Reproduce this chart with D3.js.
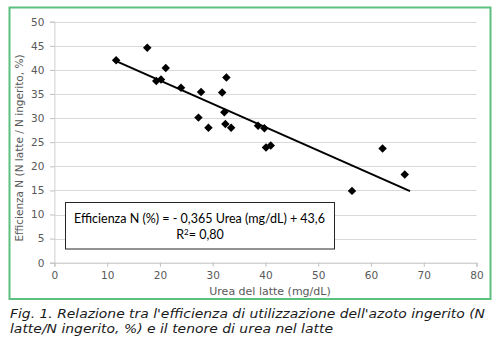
<!DOCTYPE html>
<html>
<head>
<meta charset="utf-8">
<script src="https://cdn.jsdelivr.net/npm/d3@7/dist/d3.min.js"></script>
<style>
  html, body { margin: 0; padding: 0; background: #fff; }
  svg { display: block; }
</style>
</head>
<body>
<svg id="chart" width="499" height="345"></svg>
<script>
// Urea nel latte (mg/dL) and efficienza di utilizzazione dell'azoto (%) per osservazione
const urea = [11.7, 17.6, 19.3, 20.2, 21.1, 24.0, 27.8, 32.6, 31.8, 27.3, 29.2,
              32.2, 32.4, 33.5, 38.6, 39.8, 40.1, 41.0, 62.2, 66.4, 56.4];
const efficienza = [42.0, 44.6, 37.7, 38.0, 40.4, 36.3, 35.4, 38.4, 35.3, 30.1, 28.0,
                    31.2, 28.8, 28.0, 28.4, 27.9, 23.9, 24.3, 23.7, 18.3, 14.9];

const xTicks = [0, 10, 20, 30, 40, 50, 60, 70, 80];
const yTicks = [0, 5, 10, 15, 20, 25, 30, 35, 40, 45, 50];
const trendRange = [11.7, 67.4];

const xTitle = "Urea del latte (mg/dL)";
const yTitle = "Efficienza N (N latte / N ingerito, %)";
const equationLines = ["Efficienza N (%) = - 0,365 Urea (mg/dL) + 43,6", "R2= 0,80"];
const captionLines = [
  "Fig. 1. Relazione tra l'efficienza di utilizzazione dell'azoto ingerito (N",
  "latte/N ingerito, %) e il tenore di urea nel latte"
];

const svg = d3.select("#chart");
const x = d3.scaleLinear().domain([0, 80]).range([54.4, 476.5]);
const y = d3.scaleLinear().domain([0, 50]).range([262.7, 21.7]);

const axisFont = "'DejaVu Sans', sans-serif";
const grey = "#595959";

// outer frame
svg.append("rect")
  .attr("x", 9.5).attr("y", 7.5).attr("width", 481).attr("height", 291.5)
  .attr("fill", "none").attr("stroke", "#5cc07e").attr("stroke-width", 2);

// horizontal gridlines
svg.append("g").selectAll("line").data(yTicks.filter(d => d > 0)).join("line")
  .attr("x1", x(0)).attr("x2", x(80))
  .attr("y1", d => Math.round(y(d)) + 0.5).attr("y2", d => Math.round(y(d)) + 0.5)
  .attr("stroke", "#d9d9d9").attr("stroke-width", 1);

// y axis
const yAxis = svg.append("g")
  .attr("transform", `translate(${x(0)},0)`)
  .call(d3.axisLeft(y).tickValues(yTicks).tickSize(4.5).tickPadding(5.5));
yAxis.select(".domain").attr("stroke", "#d0d0d0");
yAxis.selectAll(".tick line").attr("stroke", "#bfbfbf");
yAxis.selectAll(".tick text")
  .attr("fill", grey).style("font-family", axisFont).style("font-size", "10.5px");

// x axis
const xAxis = svg.append("g")
  .attr("transform", `translate(0,${y(0)})`)
  .call(d3.axisBottom(x).tickValues(xTicks).tickSize(4).tickPadding(5));
xAxis.select(".domain").attr("stroke", "#bfbfbf");
xAxis.selectAll(".tick line").attr("stroke", "#bfbfbf");
xAxis.selectAll(".tick text")
  .attr("fill", grey).style("font-family", axisFont).style("font-size", "10.5px");

// axis titles
svg.append("text")
  .attr("x", 270).attr("y", 295)
  .attr("text-anchor", "middle")
  .attr("fill", grey).style("font-family", axisFont).style("font-size", "11px")
  .text(xTitle);

svg.append("text")
  .attr("transform", "translate(22.5,148) rotate(-90)")
  .attr("text-anchor", "middle")
  .attr("fill", grey).style("font-family", axisFont).style("font-size", "10.5px")
  .text(yTitle);

// least-squares trendline through the observations
const n = urea.length;
const mx = d3.mean(urea), my = d3.mean(efficienza);
let sxy = 0, sxx = 0;
for (let i = 0; i < n; i++) {
  sxy += (urea[i] - mx) * (efficienza[i] - my);
  sxx += (urea[i] - mx) ** 2;
}
const slope = sxy / sxx;
const intercept = my - slope * mx;

svg.append("line")
  .attr("x1", x(trendRange[0])).attr("y1", y(intercept + slope * trendRange[0]))
  .attr("x2", x(trendRange[1])).attr("y2", y(intercept + slope * trendRange[1]))
  .attr("stroke", "#000").attr("stroke-width", 2);

// diamond markers
const diamond = d3.symbol(d3.symbolSquare, 36);
svg.append("g").selectAll("path").data(d3.range(n)).join("path")
  .attr("d", diamond)
  .attr("transform", i => `translate(${x(urea[i])},${y(efficienza[i])}) rotate(45)`)
  .attr("fill", "#000");

// regression equation box
svg.append("rect")
  .attr("x", 65.5).attr("y", 202.5).attr("width", 269).attr("height", 46.5)
  .attr("fill", "#fff").attr("stroke", "#262626").attr("stroke-width", 1);

const eqFont = "'Lato', 'Liberation Sans', sans-serif";
svg.append("text")
  .attr("x", 199.5).attr("y", 222.5).attr("text-anchor", "middle")
  .attr("fill", "#000").style("font-family", eqFont).style("font-size", "12.5px")
  .text(equationLines[0]);

const r2 = svg.append("text")
  .attr("x", 200).attr("y", 238.5).attr("text-anchor", "middle")
  .attr("fill", "#000").style("font-family", eqFont).style("font-size", "12.5px");
r2.append("tspan").text("R");
r2.append("tspan").attr("dy", -4).style("font-size", "8px").text("2");
r2.append("tspan").attr("dy", 4).text("= 0,80");

// figure caption
const capFont = "'DejaVu Sans', sans-serif";
const capWidths = [475, 323];
captionLines.forEach((line, i) => {
  svg.append("text")
    .attr("x", 10).attr("y", 317.5 + i * 15.7)
    .attr("fill", "#1a1a1a")
    .style("font-family", capFont).style("font-style", "italic").style("font-size", "13px")
    .attr("textLength", capWidths[i]).attr("lengthAdjust", "spacingAndGlyphs")
    .text(line);
});
</script>
</body>
</html>
